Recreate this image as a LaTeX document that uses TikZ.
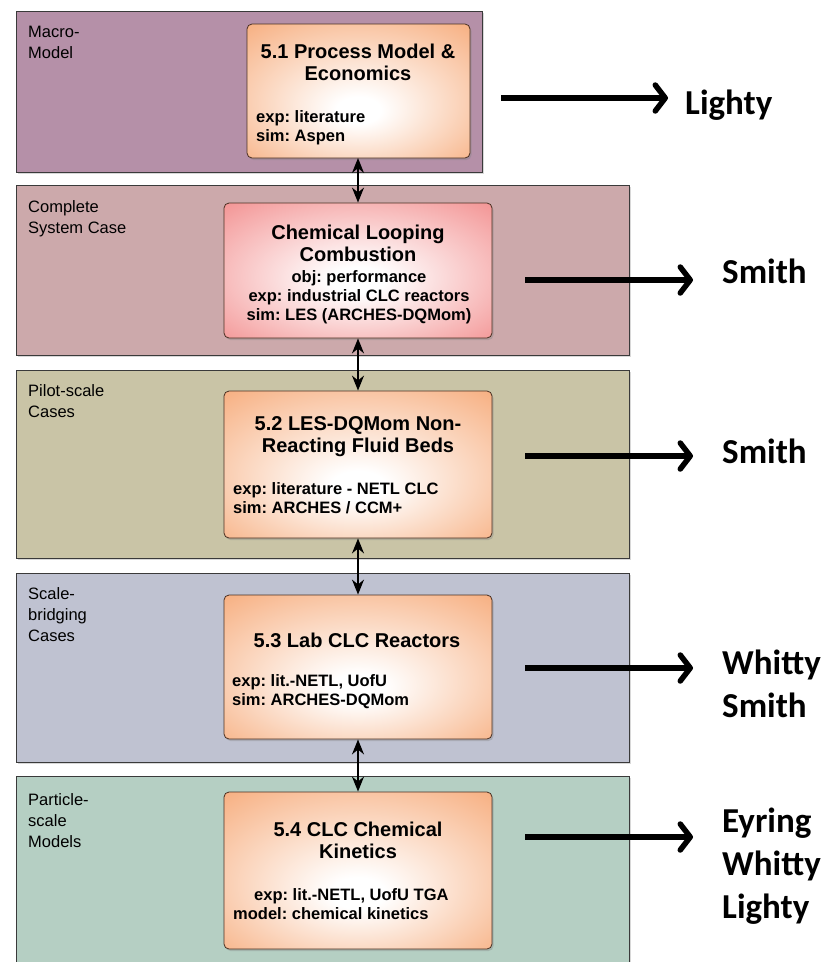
\documentclass[tikz,border=0pt]{standalone}
\usepackage{fontspec}
\setmainfont{Liberation Sans}
\newfontfamily\namefont{Carlito}
\usepackage{tikz}
\usetikzlibrary{arrows.meta,shadows}
\frenchspacing

\definecolor{macrocol}{HTML}{B590A8}
\definecolor{systemcol}{HTML}{CCA9AB}
\definecolor{pilotcol}{HTML}{C9C4A6}
\definecolor{bridgecol}{HTML}{BFC2D1}
\definecolor{particlecol}{HTML}{B5CFC3}
\definecolor{edgecol}{HTML}{3A3A3A}
\definecolor{boxedge}{HTML}{4A3022}
\definecolor{boxorange}{HTML}{F59E66}
\definecolor{boxred}{HTML}{F07A7A}

\pgfdeclareradialshading{orangeglow}{\pgfpoint{0bp}{-8bp}}{color(0bp)=(white); color(5bp)=(white); color(44bp)=(boxorange); color(50bp)=(boxorange)}
\pgfdeclareradialshading{redglow}{\pgfpoint{0bp}{-4bp}}{color(0bp)=(white); color(5bp)=(white); color(44bp)=(boxred); color(50bp)=(boxred)}

\begin{document}
\begin{tikzpicture}[x=1pt,y=-1pt,
    band/.style={draw=edgecol,line width=1pt,drop shadow={shadow xshift=1.5pt,shadow yshift=-2pt,opacity=.3}},
    bandlabel/.style={anchor=base west,inner sep=0pt,align=left,font=\fontsize{16.5}{21}\selectfont},
    taskbox/.style={draw=boxedge,line width=.8pt,rounded corners=5pt,shading=orangeglow,
        drop shadow={shadow xshift=1.5pt,shadow yshift=-2pt,opacity=.35}},
    tasktitle/.style={anchor=base,inner sep=0pt,align=center,font=\bfseries\fontsize{20}{22}\selectfont},
    taskbody/.style={anchor=base west,inner sep=0pt,align=left,font=\bfseries\fontsize{16.5}{19}\selectfont},
    link/.style={{Stealth[length=15pt,width=12pt]}-{Stealth[length=15pt,width=12pt]},line width=1.6pt},
    namearrow/.style={-{Straight Barb[length=10pt,width=26pt,round]},line width=5.5pt,shorten >=29pt},
    person/.style={anchor=base west,inner sep=0pt,align=left,font=\namefont\bfseries\fontsize{35}{43}\selectfont}]
    \useasboundingbox[fill=white] (0,0) rectangle (829,962);

    % Scale bands
    \draw[band,fill=macrocol] (16,11) rectangle (482,172);
    \draw[band,fill=systemcol] (16,185) rectangle (629,355);
    \draw[band,fill=pilotcol] (16,370) rectangle (629,558);
    \draw[band,fill=bridgecol] (16,573) rectangle (629,762);
    \draw[band,fill=particlecol] (16,776) rectangle (629,975);

    % (base = last line)
    \node[bandlabel] (macro) at (28,58) {Macro-\\Model};
    \node[bandlabel] (system) at (28,233) {Complete\\System Case};
    \node[bandlabel] (pilot) at (28,417) {Pilot-scale\\Cases};
    \node[bandlabel] (bridge) at (28,641) {Scale-\\bridging\\Cases};
    \node[bandlabel] (particle) at (28,847) {Particle-\\scale\\Models};

    % Task boxes
    \node[taskbox,minimum width=223pt,minimum height=134pt] (b51) at (358.5,91) {};
    \node[taskbox,shading=redglow,minimum width=268pt,minimum height=135pt] (clc) at (358,270.5) {};
    \node[taskbox,minimum width=268pt,minimum height=147pt] (b52) at (358,464.5) {};
    \node[taskbox,minimum width=268pt,minimum height=144pt] (b53) at (358,667) {};
    \node[taskbox,minimum width=268pt,minimum height=157pt] (b54) at (358,870.5) {};

    \node[tasktitle] (t51) at (358,80) {5.1 Process Model \&\\Economics};
    \node[taskbody] (d51) at (256,141) {exp: literature\\sim: Aspen};
    \node[tasktitle] (tclc) at (358,261) {Chemical Looping\\Combustion};
    \node[taskbody,anchor=base,align=center] (dclc) at (359,320) {obj: performance\\exp: industrial CLC reactors\\sim: LES (ARCHES-DQMom)};
    \node[tasktitle] (t52) at (358,452) {5.2 LES-DQMom Non-\\Reacting Fluid Beds};
    \node[taskbody] (d52) at (233,513) {exp: literature - NETL CLC\\sim: ARCHES / CCM+};
    \node[tasktitle] (t53) at (357,647) {5.3 Lab CLC Reactors};
    \node[taskbody] (d53) at (232,705) {exp: lit.-NETL, UofU\\sim: ARCHES-DQMom};
    \node[tasktitle] (t54) at (358,858) {5.4 CLC Chemical\\Kinetics};
    \node[taskbody] (d54) at (233,919) {\hspace*{21pt}exp: lit.-NETL, UofU TGA\\model: chemical kinetics};

    % Links between scales
    \draw[link] (358,158) -- (clc.north);
    \draw[link] (clc.south) -- (b52.north);
    \draw[link] (b52.south) -- (b53.north);
    \draw[link] (b53.south) -- (b54.north);

    % People
    \node[person] (lighty) at (685,114) {Lighty};
    \node[person] (smithA) at (722,283) {Smith};
    \node[person] (smithB) at (722,463) {Smith};
    \node[person] (whitty) at (722,717) {Whitty\\Smith};
    \node[person] (eyring) at (722,918) {Eyring\\Whitty\\Lighty};

    \coordinate (p1) at (501,98);
    \coordinate (p2) at (525,280);
    \coordinate (p3) at (525,456);
    \coordinate (p4) at (525,668);
    \coordinate (p5) at (525,837);
    \draw[namearrow,shorten >=17pt] (p1) -- (p1 -| lighty.west);
    \draw[namearrow] (p2) -- (p2 -| smithA.west);
    \draw[namearrow] (p3) -- (p3 -| smithB.west);
    \draw[namearrow] (p4) -- (p4 -| whitty.west);
    \draw[namearrow] (p5) -- (p5 -| eyring.west);
\end{tikzpicture}
\end{document}
